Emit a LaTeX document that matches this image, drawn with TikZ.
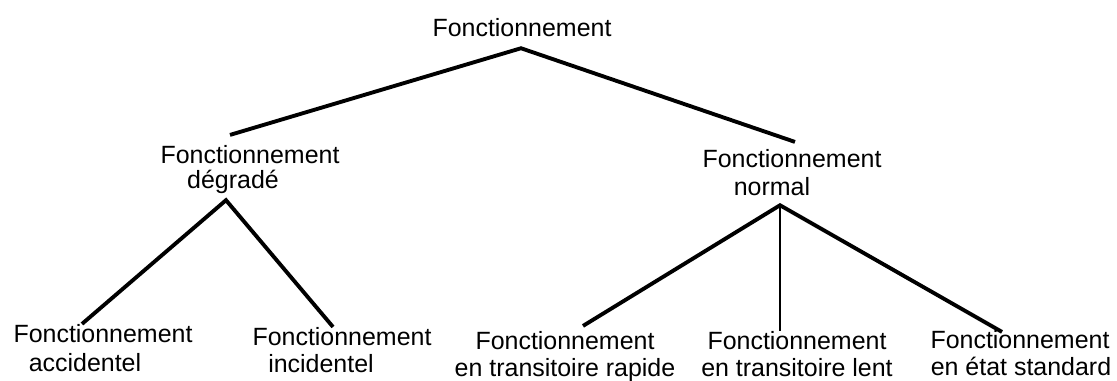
\documentclass[tikz,border=0pt]{standalone}
\usepackage{fontspec}
\setmainfont{Liberation Sans}

\begin{document}
\begin{tikzpicture}[y=-1cm,
    lbl/.style={font=\fontsize{7.1}{8.5}\selectfont, inner sep=0pt, outer sep=0pt, anchor=base},
    branch/.style={line width=1.1pt},
    stem/.style={line width=0.6pt}]
    \useasboundingbox (0,0) rectangle (11.17,3.81);
    % top
    \node[lbl] (root) at (5.22,0.36) {Fonctionnement};
    % second level
    \node[lbl] (deg) at (2.50,1.63) {Fonctionnement};
    \node[lbl] (deg-b) at (2.33,1.88) {dégradé};
    \node[lbl] (norm) at (7.92,1.68) {Fonctionnement};
    \node[lbl] (norm-b) at (7.72,1.95) {normal};
    % leaves
    \node[lbl] (acc) at (1.03,3.42) {Fonctionnement};
    \node[lbl] (acc-b) at (0.85,3.71) {accidentel};
    \node[lbl] (inc) at (3.42,3.45) {Fonctionnement};
    \node[lbl] (inc-b) at (3.21,3.72) {incidentel};
    \node[lbl] (rap) at (5.65,3.49) {Fonctionnement};
    \node[lbl] (rap-b) at (5.65,3.76) {en transitoire rapide};
    \node[lbl] (lent) at (7.97,3.49) {Fonctionnement};
    \node[lbl] (lent-b) at (7.97,3.76) {en transitoire lent};
    \node[lbl] (std) at (10.20,3.48) {Fonctionnement};
    \node[lbl] (std-b) at (10.21,3.75) {en état standard};
    % branches
    \draw[branch] ([shift={(-0.20,-0.10)}]deg.north) -- ([shift={(-0.01,0.12)}]root.south)
        -- ([shift={(0.03,-0.08)}]norm.north);
    \draw[branch] ([shift={(-0.21,0)}]acc.north) -- ([shift={(-0.07,0.07)}]deg-b.south)
        -- ([shift={(-0.09,0)}]inc.north);
    \draw[branch] ([shift={(0.18,-0.05)}]rap.north) -- ([shift={(0.08,0.10)}]norm-b.south)
        -- ([shift={(-0.18,0.02)}]std.north);
    \draw[stem] ([shift={(0.08,0.10)}]norm-b.south) -- ([shift={(-0.17,0)}]lent.north);
\end{tikzpicture}
\end{document}
